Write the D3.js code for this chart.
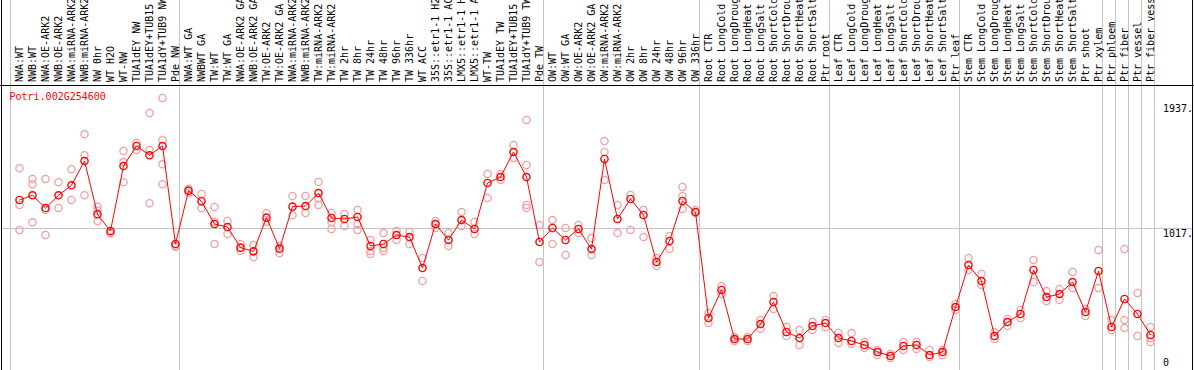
<!DOCTYPE html>
<html>
<head>
<meta charset="utf-8">
<script src="https://cdn.jsdelivr.net/npm/d3@7"></script>
<style>
  body { margin: 0; background: #fff; }
  svg { display: block; }
  .label { font-family: "DejaVu Sans Mono", monospace; font-size: 10px; }
</style>
</head>
<body>
<div id="chart"></div>
<script>
// sample names, one per column
const labels = [
  'NWA:WT', 'NWB:WT', 'NWA:OE-ARK2', 'NWB:OE-ARK2', 'NWA:miRNA-ARK2', 'NWB:miRNA-ARK2', 'NW 0hr', 'WT H2O',
  'WT-NW', 'TUA1dEY NW', 'TUA1dEY+TUB15 NW', 'TUA1dY+TUB9 NW', 'Pde NW',
  'NWA:WT GA', 'NWBWT GA', 'TW:WT', 'TW:WT GA', 'NWA:OE-ARK2 GA', 'NWB:OE-ARK2 GA', 'TW:OE-ARK2', 'TW:OE-ARK2 GA',
  'NWA:miRNA-ARK2', 'NWB:miRNA-ARK2', 'TW:miRNA-ARK2', 'TW:miRNA-ARK2', 'TW 2hr', 'TW 8hr', 'TW 24hr', 'TW 48hr',
  'TW 96hr', 'TW 336hr', 'WT ACC', '35S::etr1-1 H2O', '35S::etr1-1 ACC', 'LMX5::etr1-1 H2O', 'LMX5::etr1-1 ACC',
  'WT-TW', 'TUA1dEY TW', 'TUA1dEY+TUB15 TW', 'TUA1dY+TUB9 TW', 'Pde TW',
  'OW:WT', 'OW:WT GA', 'OW:OE-ARK2', 'OW:OE-ARK2 GA', 'OW:miRNA-ARK2', 'OW:miRNA-ARK2', 'OW 2hr', 'OW 8hr',
  'OW 24hr', 'OW 48hr', 'OW 96hr', 'OW 336hr',
  'Root CTR', 'Root LongCold', 'Root LongDrought', 'Root LongHeat', 'Root LongSalt', 'Root ShortCold',
  'Root ShortDrought', 'Root ShortHeat', 'Root ShortSalt', 'Ptr root',
  'Leaf CTR', 'Leaf LongCold', 'Leaf LongDrought', 'Leaf LongHeat', 'Leaf LongSalt', 'Leaf ShortCold',
  'Leaf ShortDrought', 'Leaf ShortHeat', 'Leaf ShortSalt', 'Ptr leaf',
  'Stem CTR', 'Stem LongCold', 'Stem LongDrought', 'Stem LongHeat', 'Stem LongSalt', 'Stem ShortCold',
  'Stem ShortDrought', 'Stem ShortHeat', 'Stem ShortSalt', 'Ptr shoot', 'Ptr xylem',
  'Ptr phloem', 'Ptr fiber', 'Ptr vessel', 'Ptr fiber vessel'
];

// mean expression per column
const means = [
  1216, 1249, 1159, 1249, 1320, 1492, 1115, 997, 1456, 1598, 1532, 1598, 905,
  1282, 1207, 1046, 1025, 879, 853, 1091, 872, 1169, 1173, 1265, 1089, 1082, 1096, 891,
  905, 968, 954, 735, 1046, 933, 1074, 1011, 1336, 1378, 1555, 1378, 919,
  1018, 933, 1011, 869, 1506, 1082, 1223, 1110, 778, 926, 1209, 1131,
  382, 580, 233, 233, 339, 495, 283, 240, 325, 346,
  240, 219, 191, 141, 113, 184, 191, 120, 141, 459,
  756, 643, 254, 353, 410, 721, 530, 551, 636, 424, 714,
  318, 516, 410, 262
];

// individual replicates per column
const replicates = [
  [1440, 1181, 1004], [1364, 1327, 1058], [1364, 1145, 969], [1341, 1159], [1433, 1216],
  [1680, 1532, 1249], [1169, 1140, 1067], [985, 980], [1562, 1484, 1341], [1621, 1569],
  [1831, 1569, 1193], [1937, 1638, 1468, 1327], [893, 886],
  [1296, 1267], [1258, 1157], [1166, 1062, 905], [1067, 976], [905, 857], [898, 811],
  [1122, 1062], [891, 839], [1244, 1108], [1244, 1124], [1343, 1230, 1180], [1124, 1060, 1011],
  [1117, 1032], [1145, 1046, 1004], [933, 855, 834], [983, 877, 855], [997, 933], [990, 905],
  [806, 643], [1067, 1018], [983, 891], [1131, 1032], [1060, 976], [1400, 1230], [1400, 1357],
  [1605, 1513], [1781, 1463, 1181, 1159], [1039, 778],
  [1074, 905], [1018, 827], [1039, 983], [947, 827], [1633, 1555, 1357], [1181, 983],
  [1251, 1004], [1145, 954], [806, 749], [961, 869], [1308, 1244, 1152], [1145, 1124],
  [417, 346], [608, 551], [247, 219], [247, 219], [368, 304], [537, 445], [318, 254],
  [297, 191], [353, 297], [368, 318],
  [276, 205], [276, 198], [212, 170], [156, 120], [127, 99], [212, 156], [212, 163],
  [156, 106], [156, 120], [481, 438],
  [806, 721], [693, 615], [283, 233], [375, 325], [438, 382], [792, 636], [573, 502],
  [587, 509], [707, 594], [445, 396], [862, 594],
  [368, 297], [869, 368, 311], [558, 254], [318, 240, 212]
];

// columns where a new sample group starts (last one closes the grid)
const groupStarts = [0, 13, 41, 53, 63, 73, 84, 85, 86, 87, 88];

const tickValues = [1937, 1017, 0];
const tickLabels = ['1937.', '1017.', '0'];
const geneId = 'Potri.002G254600';

class ExpressionChart {

  constructor(_config) {
    this.config = {
      parentElement: _config.parentElement,
      containerWidth: _config.containerWidth || 1194,
      containerHeight: _config.containerHeight || 370,
      plotTop: 85,
      colWidth: 13,
      colLeft: 11,
      markerRadius: 3.6
    };
    this.initVis();
  }

  initVis() {
    let vis = this;
    const c = vis.config;

    vis.svg = d3.select(c.parentElement).append('svg')
        .attr('width', c.containerWidth)
        .attr('height', c.containerHeight);

    vis.xScale = d3.scaleLinear()
        .domain([0, labels.length])
        .range([c.colLeft, c.colLeft + labels.length * c.colWidth]);

    vis.yScale = d3.scaleLinear()
        .domain([0, 1937])
        .range([372, 98]);

    // point x sits a little right of the cell start, like the original
    vis.xPos = i => vis.xScale(i) + 8.5;

    vis.renderVis();
  }

  renderVis() {
    let vis = this;
    const c = vis.config;

    // group separators run the full height
    vis.svg.selectAll('.vgrid')
        .data(groupStarts)
        .join('line')
        .attr('class', 'vgrid')
        .attr('x1', d => Math.round(vis.xScale(d)) - 0.5)
        .attr('x2', d => Math.round(vis.xScale(d)) - 0.5)
        .attr('y1', 0)
        .attr('y2', c.containerHeight)
        .attr('stroke', '#c4c4c4');

    // middle reference line
    vis.svg.append('line')
        .attr('x1', 1.5)
        .attr('x2', c.containerWidth - 1.5)
        .attr('y1', Math.round(vis.yScale(tickValues[1])) + 0.5)
        .attr('y2', Math.round(vis.yScale(tickValues[1])) + 0.5)
        .attr('stroke', '#c4c4c4');

    // frame
    vis.svg.append('line')
        .attr('x1', 0).attr('x2', c.containerWidth)
        .attr('y1', c.plotTop + 0.5).attr('y2', c.plotTop + 0.5)
        .attr('stroke', '#000');
    [1.5, c.containerWidth - 1.5].forEach(x => {
      vis.svg.append('line')
          .attr('x1', x).attr('x2', x)
          .attr('y1', 0).attr('y2', c.containerHeight)
          .attr('stroke', '#000');
    });

    // rotated sample labels (clipped at the top edge, as in the original)
    vis.svg.selectAll('.col-label')
        .data(labels)
        .join('text')
        .attr('class', 'label col-label')
        .attr('transform', (d, i) => `translate(${vis.xPos(i) + 3.5},82) rotate(-90)`)
        .attr('fill', '#000')
        .text(d => d);

    // gene id
    vis.svg.append('text')
        .attr('class', 'label')
        .attr('x', 9.5)
        .attr('y', 100)
        .attr('fill', '#ff0000')
        .text(geneId);

    // value labels on the right
    vis.svg.selectAll('.tick-label')
        .data(tickValues)
        .join('text')
        .attr('class', 'label tick-label')
        .attr('x', 1163)
        .attr('y', d => Math.max(112, Math.min(366, vis.yScale(d) + 9)))
        .attr('fill', '#000')
        .text((d, i) => tickLabels[i]);

    // replicates
    const reps = replicates.flatMap((r, i) => r.map(v => ({i, v})));
    vis.svg.selectAll('.rep')
        .data(reps)
        .join('circle')
        .attr('class', 'rep')
        .attr('cx', d => vis.xPos(d.i))
        .attr('cy', d => vis.yScale(d.v))
        .attr('r', c.markerRadius)
        .attr('fill', 'none')
        .attr('stroke', '#f0a0a0')
        .attr('stroke-width', 1.3);

    // mean line
    const line = d3.line()
        .x((d, i) => vis.xPos(i))
        .y(d => vis.yScale(d));

    vis.svg.append('path')
        .datum(means)
        .attr('d', line)
        .attr('fill', 'none')
        .attr('stroke', '#ff0000')
        .attr('stroke-width', 1);

    vis.svg.selectAll('.mean')
        .data(means)
        .join('circle')
        .attr('class', 'mean')
        .attr('cx', (d, i) => vis.xPos(i))
        .attr('cy', d => vis.yScale(d))
        .attr('r', c.markerRadius)
        .attr('fill', 'none')
        .attr('stroke', '#ff0000')
        .attr('stroke-width', 1.4);
  }

}

new ExpressionChart({parentElement: '#chart'});
</script>
</body>
</html>
